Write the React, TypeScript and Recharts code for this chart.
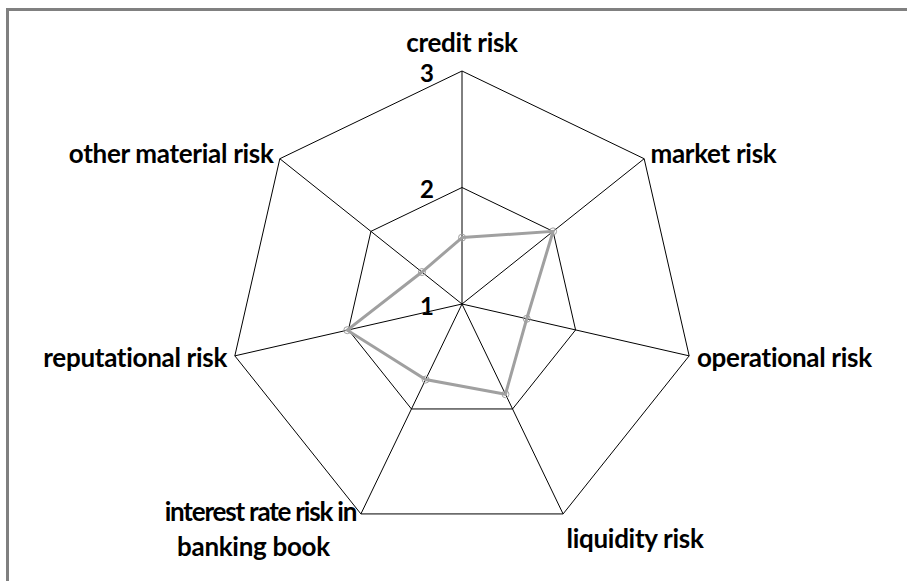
import { RadarChart, Radar, PolarGrid, PolarAngleAxis, PolarRadiusAxis } from "recharts"

const categories = [
  "credit risk",
  "market risk",
  "operational risk",
  "liquidity risk",
  "interest rate risk in banking book",
  "reputational risk",
  "other material risk",
]
const riskScores = [1.57, 2.0, 1.57, 1.86, 1.72, 2.01, 1.44]
const radiusTicks = [1, 2, 3]

const data = categories.map((name, i) => ({ name, score: riskScores[i] }))

const FONT = "Lato, 'Open Sans', sans-serif"

function AngleTick({ x, y, payload, textAnchor }: any) {
  const label: string = payload.value
  const common = {
    fontFamily: FONT,
    fontWeight: 700,
    fontSize: 26,
    fill: "#000",
    letterSpacing: -0.3,
  }
  if (label === "credit risk") {
    return (
      <text x={x} y={y - 11} textAnchor="middle" {...common}>
        {label}
      </text>
    )
  }
  if (label.startsWith("interest rate")) {
    return (
      <text x={x - 97} y={y} textAnchor="middle" {...common}>
        <tspan x={x - 97} dy={0} letterSpacing={-1.2}>interest rate risk in</tspan>
        <tspan x={x - 104} dy={35}>banking book</tspan>
      </text>
    )
  }
  const dy = label === "liquidity risk" ? 17 : -1
  return (
    <text x={x} y={y + dy} textAnchor={textAnchor} dominantBaseline="central" {...common}>
      {label}
    </text>
  )
}

function RadiusTick({ x, y, payload }: any) {
  return (
    <text
      x={x - 28}
      y={y + 1}
      textAnchor="end"
      dominantBaseline="central"
      fontFamily={FONT}
      fontWeight={700}
      fontSize={24}
      fill="#000"
    >
      {payload.value}
    </text>
  )
}

export default function App() {
  return (
    <div
      style={{
        position: "absolute",
        left: 0,
        top: 0,
        width: 907,
        height: 581,
        overflow: "hidden",
        background: "#fff",
      }}
    >
      <div
        style={{
          position: "absolute",
          left: 6,
          top: 8,
          width: 920,
          height: 600,
          borderTop: "3px solid #808080",
          borderLeft: "3px solid #808080",
          boxSizing: "border-box",
        }}
      />
      <div style={{ position: "absolute", left: 0, top: 0 }}>
        <RadarChart width={907} height={581} data={data} cx={462} cy={304} outerRadius={233}>
          <PolarGrid gridType="polygon" stroke="#000" strokeWidth={1} />
          <PolarAngleAxis dataKey="name" tick={<AngleTick />} tickLine={false} axisLine={false} />
          <PolarRadiusAxis
            angle={90}
            domain={[1, 3]}
            ticks={radiusTicks as any}
            tickCount={3}
            axisLine={false}
            tickLine={false}
            tick={<RadiusTick />}
          />
          <Radar
            dataKey="score"
            stroke="#a0a0a0"
            strokeWidth={3}
            fill="none"
            fillOpacity={0}
            dot={{ r: 3.5, fill: "#a0a0a0", stroke: "#a0a0a0", strokeWidth: 1 }}
            isAnimationActive={false}
          />
        </RadarChart>
      </div>
    </div>
  )
}
